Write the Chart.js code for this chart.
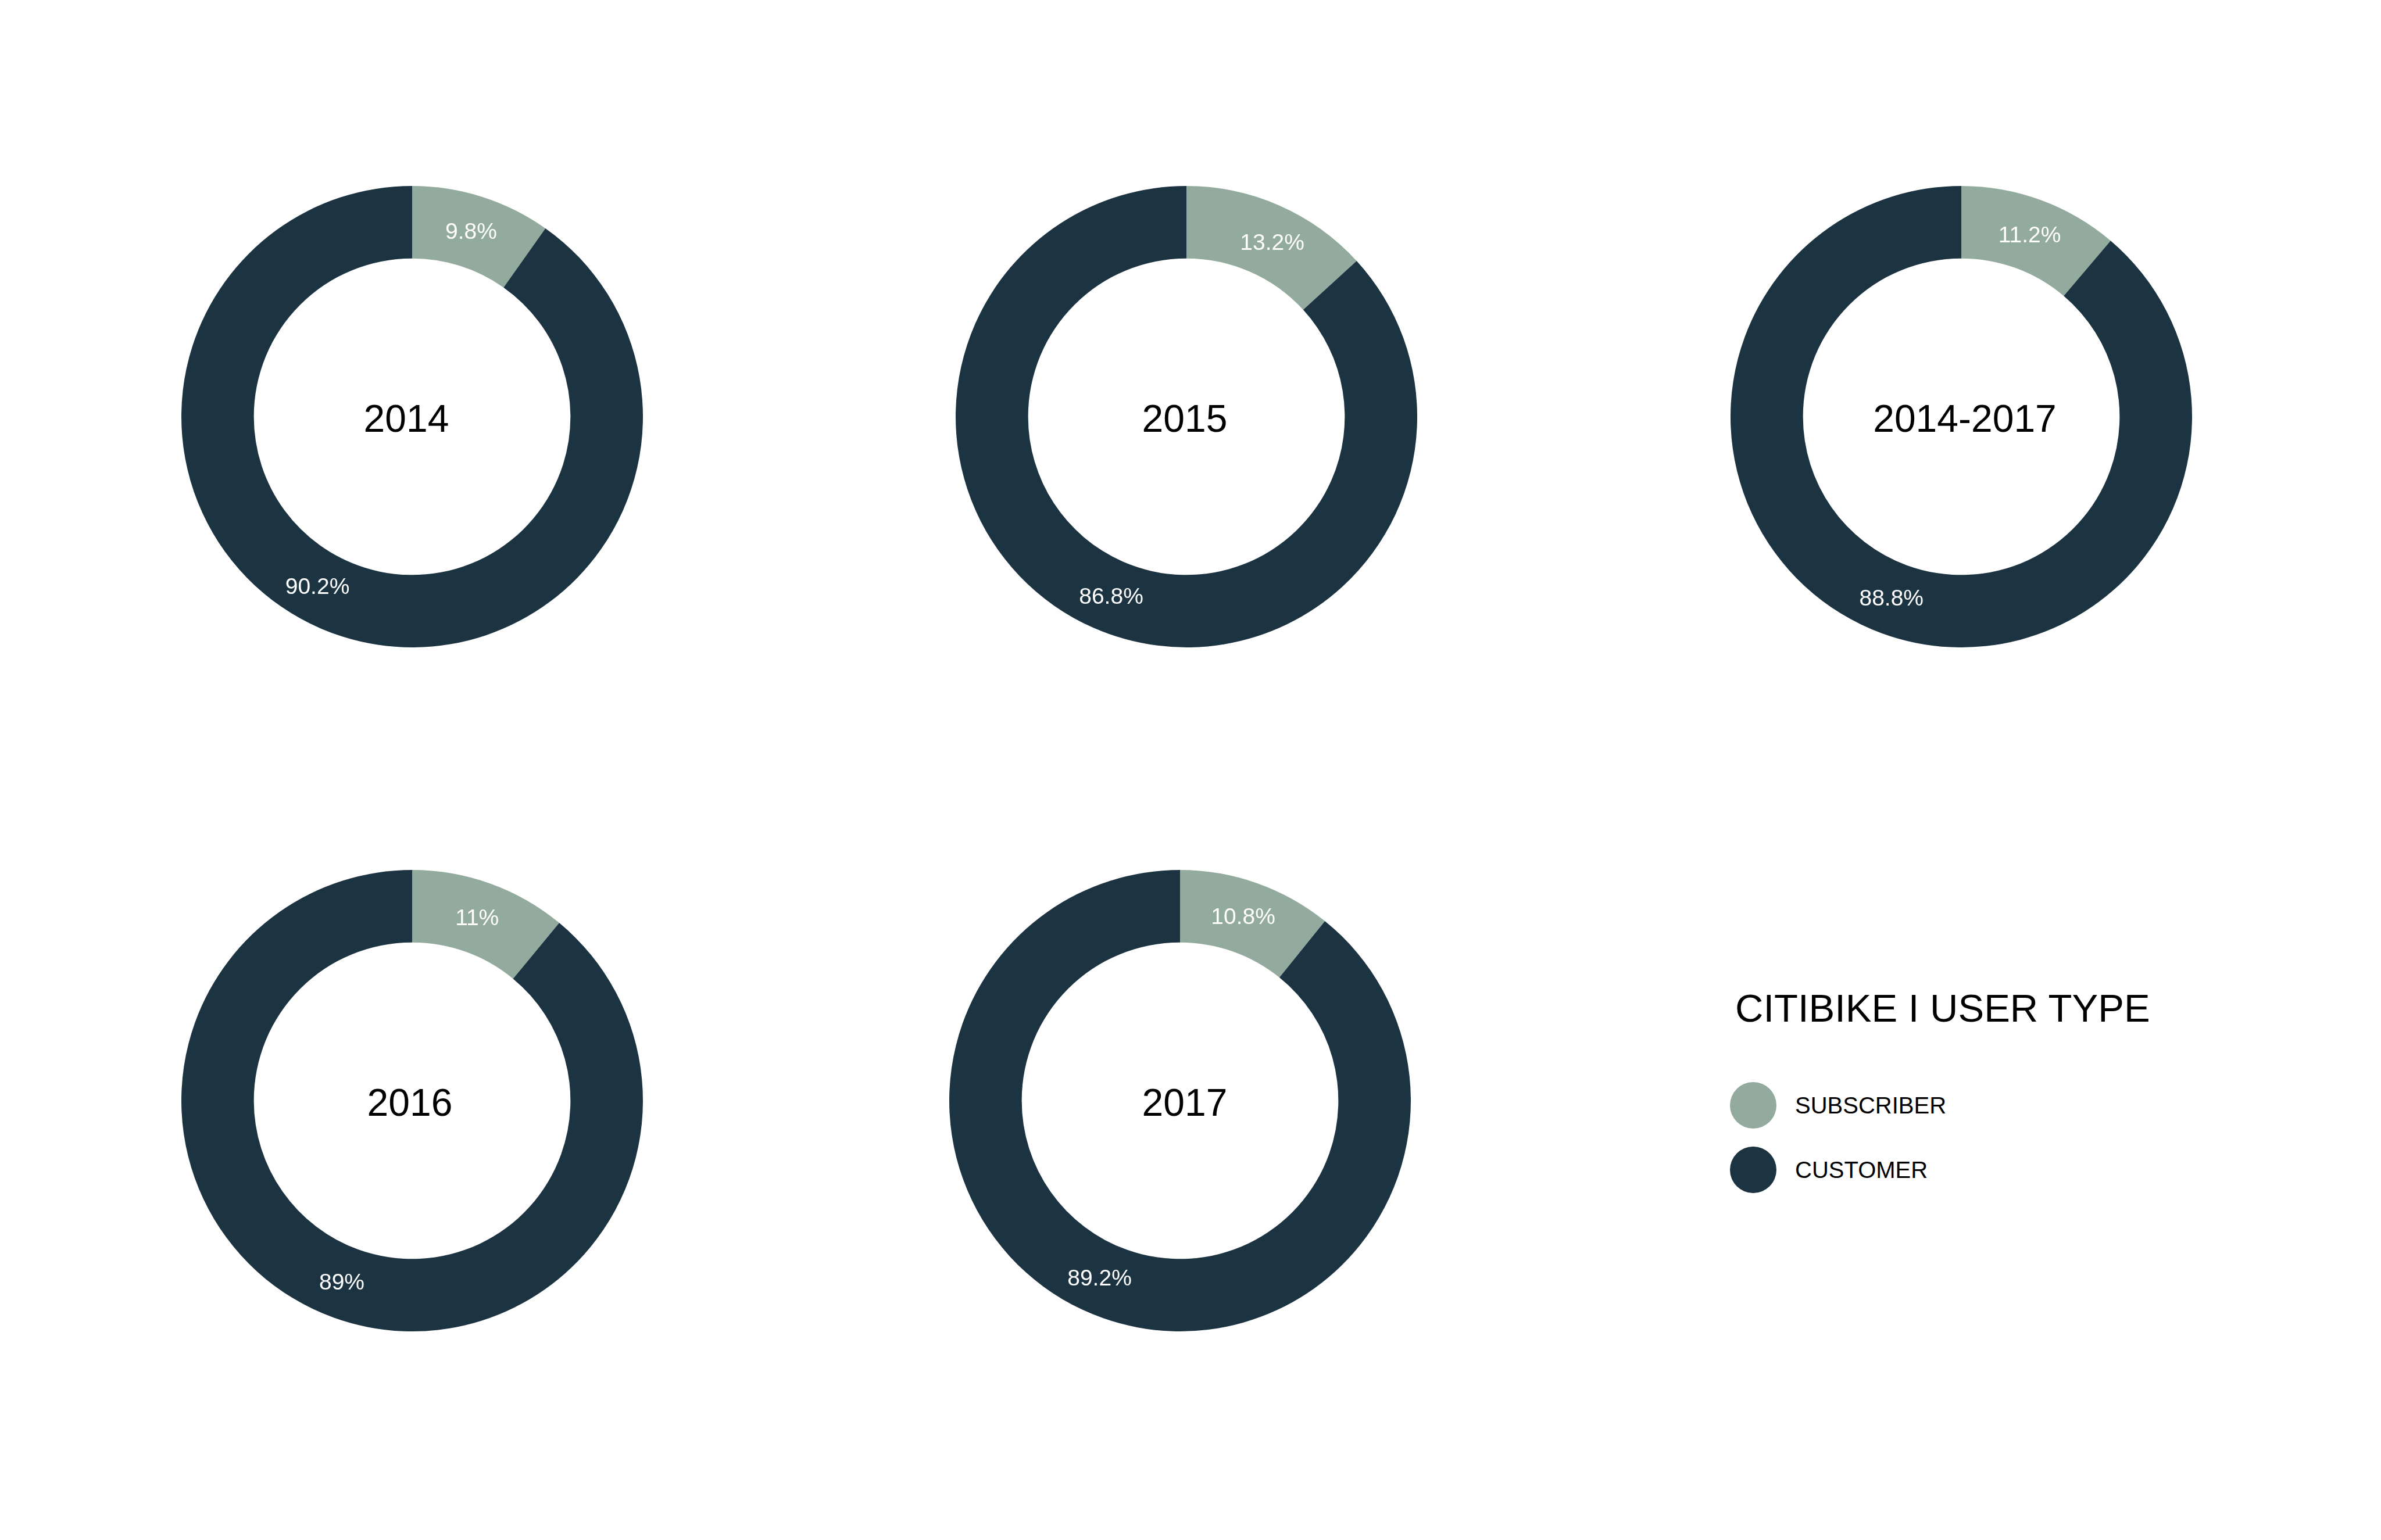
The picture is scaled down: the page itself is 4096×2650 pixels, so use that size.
<!DOCTYPE html>
<html>
<head>
<meta charset="utf-8">
<script src="https://cdn.jsdelivr.net/npm/chart.js@4/dist/chart.umd.min.js"></script>
<style>
  html, body { margin: 0; padding: 0; background: #ffffff; }
  body { width: 4096px; height: 2650px; position: relative; overflow: hidden; font-family: "Liberation Sans", Arial, Helvetica, sans-serif; }
  .panel { position: absolute; width: 794px; height: 794px; }
  .legend-title { position: absolute; left: 2985px; top: 1695px; font-size: 67px; line-height: 80px; color: #000; white-space: nowrap; }
  .legend-item { position: absolute; left: 2976px; height: 80px; display: flex; align-items: center; white-space: nowrap; }
  .legend-item .dot { width: 80px; height: 80px; border-radius: 50%; margin-right: 32px; flex: none; }
  .legend-item .txt { font-size: 40px; color: #000; position: relative; top: 0px; }
</style>
</head>
<body>
<script>
// ---------------- DATA ----------------
const panelTitles = ['2014', '2015', '2014-2017', '2016', '2017'];
const categories = ['SUBSCRIBER', 'CUSTOMER'];
const subscriberShare = [9.8, 13.2, 11.2, 11, 10.8];
const customerShare = [90.2, 86.8, 88.8, 89, 89.2];
const categoryColors = ['#93AA9E', '#1C3341'];
const legendTitle = 'CITIBIKE I USER TYPE';

// ---------------- LAYOUT (window px) ----------------
const panelCenters = [[709, 717], [2041, 717], [3374, 717], [709, 1894], [2030, 1894]];
const titleShiftX = [-10, -3, 6, -4, 8];
const ringRadius = 397;
const labelAngleNudgeDeg = [[0, 11.5], [2.4, -1], [0.4, 0.9], [-0.3, 1.4], [-0.5, 5]];
const legendRowsTop = [1862, 1973];

const FONT = '"Liberation Sans", Arial, Helvetica, sans-serif';

const ringLabels = {
  id: 'ringLabels',
  afterDatasetsDraw(chart, args, opts) {
    const ctx = chart.ctx;
    const meta = chart.getDatasetMeta(0);
    const ds = chart.data.datasets[0];
    ctx.save();
    ctx.fillStyle = '#ffffff';
    ctx.font = '39px ' + FONT;
    ctx.textAlign = 'center';
    ctx.textBaseline = 'alphabetic';
    meta.data.forEach((arc, i) => {
      const p = arc.getProps(['x', 'y', 'startAngle', 'endAngle', 'innerRadius', 'outerRadius'], true);
      const a = (p.startAngle + p.endAngle) / 2 + (opts.nudge[i] || 0) * Math.PI / 180;
      const r = (p.innerRadius + p.outerRadius) / 2;
      const x = p.x + Math.cos(a) * r;
      const y = p.y + Math.sin(a) * r;
      ctx.fillText(ds.data[i] + '%', x, y + 13);
    });
    // centre title
    const c = meta.data[0].getProps(['x', 'y'], true);
    ctx.fillStyle = '#000000';
    ctx.font = '66px ' + FONT;
    ctx.fillText(opts.title, c.x + opts.shiftX, c.y + 26);
    ctx.restore();
  }
};

panelTitles.forEach((title, k) => {
  const div = document.createElement('div');
  div.className = 'panel';
  div.style.left = (panelCenters[k][0] - ringRadius) + 'px';
  div.style.top = (panelCenters[k][1] - ringRadius) + 'px';
  const cv = document.createElement('canvas');
  div.appendChild(cv);
  document.body.appendChild(div);
  new Chart(cv, {
    type: 'doughnut',
    data: {
      labels: categories,
      datasets: [{
        data: [subscriberShare[k], customerShare[k]],
        backgroundColor: categoryColors,
        borderWidth: 0,
        hoverOffset: 0
      }]
    },
    options: {
      responsive: true,
      maintainAspectRatio: false,
      animation: false,
      cutout: '68.6%',
      rotation: 0,
      layout: { padding: 0 },
      events: [],
      plugins: {
        legend: { display: false },
        tooltip: { enabled: false },
        ringLabels: { title: title, nudge: labelAngleNudgeDeg[k], shiftX: titleShiftX[k] }
      }
    },
    plugins: [ringLabels]
  });
});

// legend (HTML)
const lt = document.createElement('div');
lt.className = 'legend-title';
lt.textContent = legendTitle;
document.body.appendChild(lt);
categories.forEach((name, i) => {
  const row = document.createElement('div');
  row.className = 'legend-item';
  row.style.top = legendRowsTop[i] + 'px';
  const dot = document.createElement('div');
  dot.className = 'dot';
  dot.style.background = categoryColors[i];
  const t = document.createElement('span');
  t.className = 'txt';
  t.textContent = name;
  row.appendChild(dot);
  row.appendChild(t);
  document.body.appendChild(row);
});
</script>
</body>
</html>
